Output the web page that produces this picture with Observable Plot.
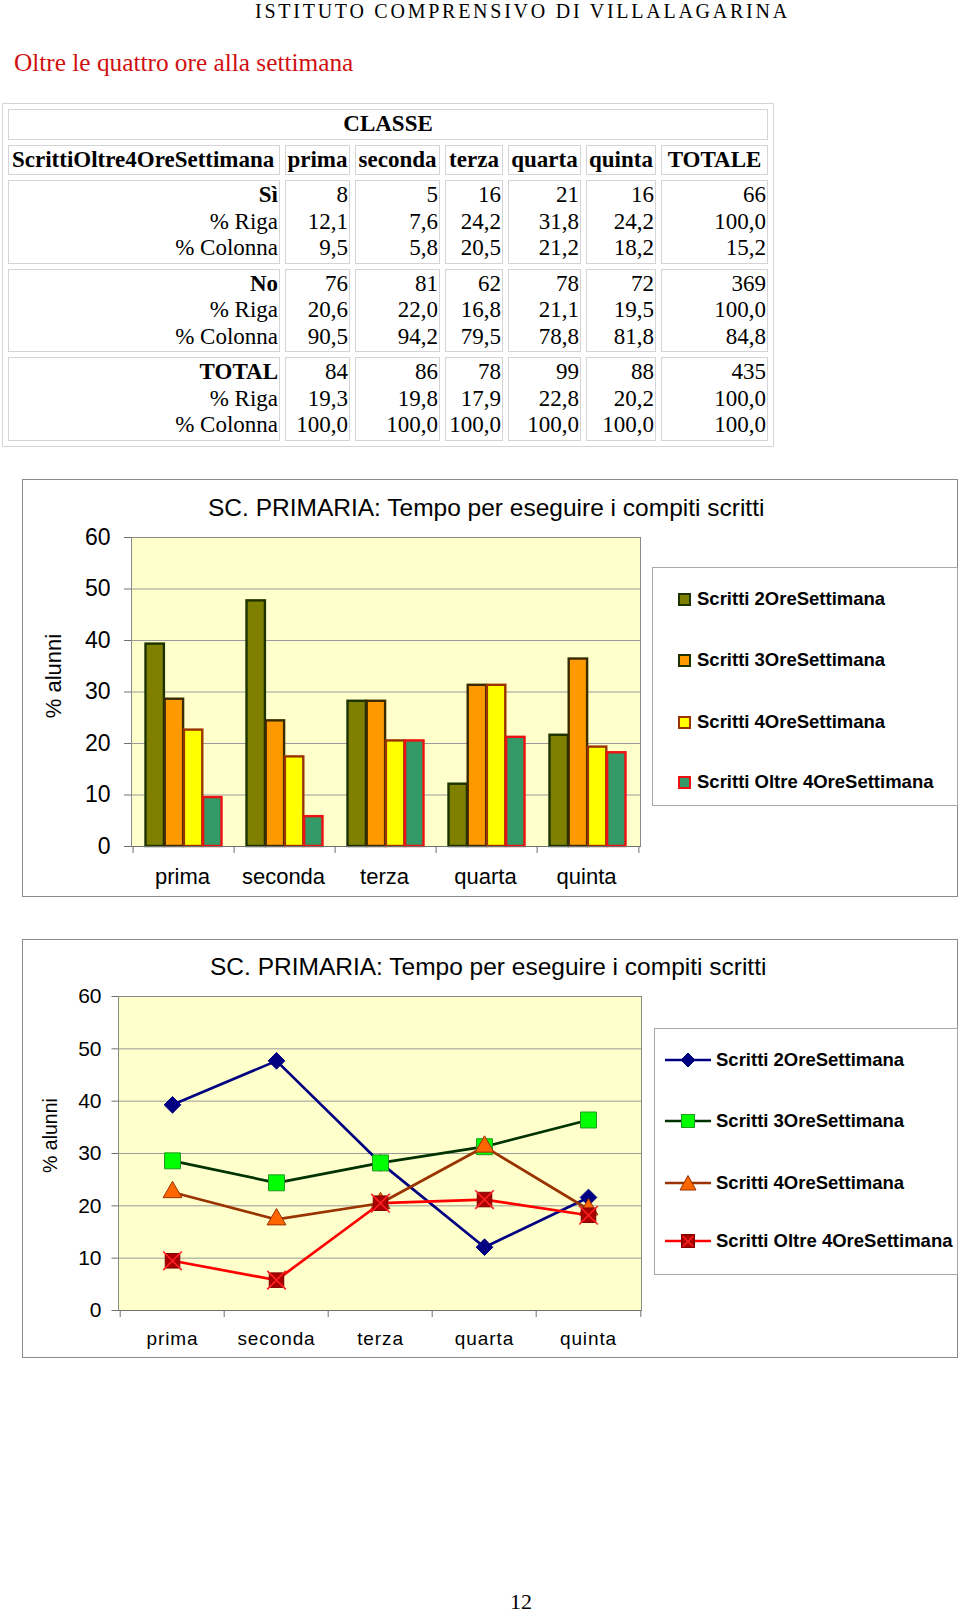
<!DOCTYPE html>
<html>
<head>
<meta charset="utf-8">
<script src="https://cdn.jsdelivr.net/npm/d3@7"></script>
<script src="https://cdn.jsdelivr.net/npm/@observablehq/plot@0.6"></script>
<style>
html,body{margin:0;padding:0;background:#fff;}
#page{position:relative;width:960px;height:1613px;overflow:hidden;background:#fff;}
.abs{position:absolute;}
.serif{font-family:"Liberation Serif","Times New Roman",serif;}
.sans{font-family:"Liberation Sans",Arial,sans-serif;}
#t{position:absolute;left:2px;top:103px;border-collapse:separate;border-spacing:5px;border:1px solid #d4d4d4;
   font-family:"Liberation Serif","Times New Roman",serif;font-size:23px;line-height:26.5px;table-layout:fixed;width:772px;color:#000;}
#t td{border:1px solid #d4d4d4;padding:1px 1px;box-sizing:border-box;vertical-align:top;white-space:nowrap;overflow:visible;}
.frame{position:absolute;border:1.5px solid #8a8a8a;box-sizing:border-box;background:#fff;}
.legend{position:absolute;border:1px solid #a8a8a8;box-sizing:border-box;background:#fff;}
.litem{position:absolute;height:22px;display:flex;align-items:center;font-family:"Liberation Sans",Arial,sans-serif;font-weight:bold;font-size:18.5px;white-space:nowrap;color:#000;}
.title{position:absolute;font-family:"Liberation Sans",Arial,sans-serif;font-size:24.5px;line-height:30px;white-space:nowrap;color:#000;}
</style>
</head>
<body>
<div id="page">
  <div class="abs serif" style="left:255px;top:0px;font-size:20px;line-height:22px;letter-spacing:2.75px;white-space:nowrap;">ISTITUTO COMPRENSIVO DI VILLALAGARINA</div>
  <div class="abs serif" style="left:14px;top:47px;font-size:25.3px;line-height:30px;color:#d01010;white-space:nowrap;">Oltre le quattro ore alla settimana</div>
  <table id="t"></table>

  <div class="frame" style="left:22px;top:479px;width:936px;height:418px;"></div>
  <div id="chart1" class="abs" style="left:23px;top:480px;"></div>
  <div class="title" style="left:208px;top:493px;">SC. PRIMARIA: Tempo per eseguire i compiti scritti</div>
  <div id="legend1" class="legend" style="left:652px;top:567px;width:306px;height:239px;"></div>

  <div class="frame" style="left:22px;top:939px;width:936px;height:419px;"></div>
  <div id="chart2" class="abs" style="left:23px;top:940px;"></div>
  <div class="title" style="left:210px;top:952px;">SC. PRIMARIA: Tempo per eseguire i compiti scritti</div>
  <div id="legend2" class="legend" style="left:654px;top:1028px;width:304px;height:247px;"></div>

  <div class="abs serif" style="left:471px;top:1589px;width:100px;text-align:center;font-size:22px;line-height:26px;">12</div>
</div>
<script>
// ---------- DATA ----------
const classi = ["prima", "seconda", "terza", "quarta", "quinta"];
const serie = ["Scritti 2OreSettimana", "Scritti 3OreSettimana", "Scritti 4OreSettimana", "Scritti Oltre 4OreSettimana"];
const scritti2Ore = [39.3, 47.7, 28.2, 12.1, 21.6];
const scritti3Ore = [28.6, 24.4, 28.2, 31.3, 36.4];
const scritti4Ore = [22.6, 17.4, 20.5, 31.3, 19.3];
const scrittiOltre4Ore = [9.5, 5.8, 20.5, 21.2, 18.2];
const yTicks = [0, 10, 20, 30, 40, 50, 60];

// table
const tabTitolo = "CLASSE";
const tabVariabile = "ScrittiOltre4OreSettimana";
const tabColonne = ["prima", "seconda", "terza", "quarta", "quinta", "TOTALE"];
const tabGruppi = ["Sì", "No", "TOTAL"];
const tabSottoRighe = ["% Riga", "% Colonna"];
const siN = ["8", "5", "16", "21", "16", "66"];
const siRiga = ["12,1", "7,6", "24,2", "31,8", "24,2", "100,0"];
const siColonna = ["9,5", "5,8", "20,5", "21,2", "18,2", "15,2"];
const noN = ["76", "81", "62", "78", "72", "369"];
const noRiga = ["20,6", "22,0", "16,8", "21,1", "19,5", "100,0"];
const noColonna = ["90,5", "94,2", "79,5", "78,8", "81,8", "84,8"];
const totN = ["84", "86", "78", "99", "88", "435"];
const totRiga = ["19,3", "19,8", "17,9", "22,8", "20,2", "100,0"];
const totColonna = ["100,0", "100,0", "100,0", "100,0", "100,0", "100,0"];

// ---------- TABLE ----------
(function () {
  const colW = [272, 65, 85, 58, 73, 70, 107];
  const gruppi = [[siN, siRiga, siColonna], [noN, noRiga, noColonna], [totN, totRiga, totColonna]];
  let h = "<colgroup>" + colW.map(w => `<col style="width:${w}px">`).join("") + "</colgroup>";
  h += `<tr><td colspan="7" style="text-align:center;font-weight:bold;">${tabTitolo}</td></tr>`;
  h += `<tr><td style="font-weight:bold;padding-left:3px;">${tabVariabile}</td>` +
       tabColonne.map(c => `<td style="font-weight:bold;text-align:center;">${c}</td>`).join("") + "</tr>";
  gruppi.forEach((g, gi) => {
    h += `<tr><td style="text-align:right;"><b>${tabGruppi[gi]}</b><br>${tabSottoRighe[0]}<br>${tabSottoRighe[1]}</td>`;
    for (let j = 0; j < tabColonne.length; j++) {
      h += `<td style="text-align:right;">${g[0][j]}<br>${g[1][j]}<br>${g[2][j]}</td>`;
    }
    h += "</tr>";
  });
  document.getElementById("t").innerHTML = h;
})();

// ---------- CHARTS ----------
const font = "Liberation Sans, Arial, sans-serif";
const seriesValues = [scritti2Ore, scritti3Ore, scritti4Ore, scrittiOltre4Ore];
const rows = (vals) => classi.map((c, i) => ({classe: c, valore: vals[i]}));

// Chart 1: grouped bars
const barStyles = [
  {fill: "#808000", stroke: "#1c3300"},
  {fill: "#ff9900", stroke: "#3a2a00"},
  {fill: "#ffff00", stroke: "#993300"},
  {fill: "#339966", stroke: "#ee1111"}
];
{
  const W = 622, H = 416, mL = 108, mR = 5, mT = 57, mB = 50;
  const bw = (W - mL - mR) / classi.length;
  const barW = 19.2, off = (bw - 4 * barW) / 2;
  const chart = Plot.plot({
    width: W, height: H, marginLeft: mL, marginRight: mR, marginTop: mT, marginBottom: mB,
    style: {background: "transparent", fontFamily: font, color: "#000", overflow: "visible"},
    x: {domain: classi, type: "band", padding: 0, label: null},
    y: {domain: [0, 60], label: null},
    marks: [
      Plot.frame({fill: "#ffffcc", stroke: null}),
      Plot.gridY({ticks: yTicks, stroke: "#9a9a9a", strokeOpacity: 1}),
      Plot.frame({stroke: "#8a8a8a"}),
      ...seriesValues.map((vals, i) => Plot.barY(rows(vals), {
        x: "classe", y: "valore", fill: barStyles[i].fill, stroke: barStyles[i].stroke, strokeWidth: 2.4,
        insetLeft: off + i * barW, insetRight: bw - off - (i + 1) * barW
      })),
      Plot.ruleY([0], {stroke: "#707070"}),
      Plot.axisY({ticks: yTicks, tickSize: 7, tickPadding: 14, fontSize: 23, label: null, stroke: "#707070", fill: "#000"}),
      Plot.axisX({tickSize: 0, tickPadding: 22, fontSize: 22, label: null, fill: "#000", dx: -1.5}),
      Plot.axisX({tickSize: 7, tickFormat: () => "", dx: -bw / 2, stroke: "#707070", label: null}),
      Plot.axisX({ticks: [classi[classi.length - 1]], tickSize: 7, tickFormat: () => "", dx: bw / 2, stroke: "#707070", label: null}),
      Plot.text(["% alunni"], {frameAnchor: "left", textAnchor: "middle", lineAnchor: "middle", rotate: -90, dx: -78, dy: -16, fontSize: 22, fill: "#000"})
    ]
  });
  document.getElementById("chart1").appendChild(chart);
}

// Chart 2: lines with markers
const lineStyles = [
  {stroke: "#000080", symbol: "diamond2", fill: "#000080", mstroke: "#000080", r: 7.5},
  {stroke: "#003300", symbol: "square", fill: "#00ff00", mstroke: "#229922", r: 9},
  {stroke: "#993300", symbol: "triangle", fill: "#ff6600", mstroke: "#993300", r: 7},
  {stroke: "#ff0000", symbol: "square", fill: "#aa0000", mstroke: "#800000", r: 8.2, cross: true}
];
{
  const W = 622, H = 417, mL = 95, mR = 4, mT = 56, mB = 47;
  const bw = (W - mL - mR) / classi.length;
  const marks = [
    Plot.frame({fill: "#ffffcc", stroke: null}),
    Plot.gridY({ticks: yTicks, stroke: "#9a9a9a", strokeOpacity: 1}),
    Plot.frame({stroke: "#8a8a8a"}),
    Plot.ruleY([0], {stroke: "#707070"}),
    Plot.axisY({ticks: yTicks, tickSize: 6.5, tickPadding: 10.5, fontSize: 21, label: null, stroke: "#707070", fill: "#000"}),
    Plot.axisX({tickSize: 0, tickPadding: 20.5, fontSize: 19, label: null, fill: "#000"}),
    Plot.axisX({tickSize: 7, tickFormat: () => "", dx: -bw / 2, stroke: "#707070", label: null}),
    Plot.axisX({ticks: [classi[classi.length - 1]], tickSize: 7, tickFormat: () => "", dx: bw / 2, stroke: "#707070", label: null}),
    Plot.text(["% alunni"], {frameAnchor: "left", textAnchor: "middle", lineAnchor: "middle", rotate: -90, dx: -68, dy: -18, fontSize: 19.5, fill: "#000"})
  ];
  seriesValues.forEach((vals, i) => {
    const s = lineStyles[i];
    marks.push(Plot.line(rows(vals), {x: "classe", y: "valore", stroke: s.stroke, strokeWidth: 2.7}));
    marks.push(Plot.dot(rows(vals), {x: "classe", y: "valore", symbol: s.symbol, fill: s.fill, stroke: s.mstroke, strokeWidth: 1, r: s.r}));
    if (s.cross) marks.push(Plot.dot(rows(vals), {x: "classe", y: "valore", symbol: "times", stroke: "#ff2020", strokeWidth: 1.6, r: 8.5}));
  });
  const chart = Plot.plot({
    width: W, height: H, marginLeft: mL, marginRight: mR, marginTop: mT, marginBottom: mB,
    style: {background: "transparent", fontFamily: font, color: "#000", overflow: "visible"},
    x: {domain: classi, type: "point", padding: 0.5, label: null},
    y: {domain: [0, 60], label: null},
    marks
  });
  // letter-spaced category labels as in the reference
  d3.select(chart).selectAll('g[aria-label="x-axis tick label"] text').style("letter-spacing", "0.9px");
  document.getElementById("chart2").appendChild(chart);
}

// ---------- LEGENDS ----------
{
  const lg = document.getElementById("legend1");
  const centers = [31, 92, 154, 214]; // relative to legend box top
  serie.forEach((name, i) => {
    const d = document.createElement("div");
    d.className = "litem";
    d.style.left = "25px";
    d.style.top = (centers[i] - 11) + "px";
    d.innerHTML = `<span style="display:inline-block;width:13px;height:13px;box-sizing:border-box;background:${barStyles[i].fill};border:2.5px solid ${i === 1 ? "#1c3300" : barStyles[i].stroke};margin-right:6px;"></span>${name}`;
    lg.appendChild(d);
  });
}
{
  const lg = document.getElementById("legend2");
  const centers = [31, 92, 154, 212];
  const sym = (i) => {
    const s = lineStyles[i];
    let m = "";
    if (s.symbol === "diamond2") m = `<path d="M23,2 L30,9 L23,16 L16,9 Z" fill="${s.fill}" stroke="${s.mstroke}"/>`;
    else if (s.symbol === "triangle") m = `<path d="M23,1.5 L31,16 L15,16 Z" fill="${s.fill}" stroke="${s.mstroke}"/>`;
    else m = `<rect x="16.5" y="2.5" width="13" height="13" fill="${s.fill}" stroke="${s.mstroke}"/>`;
    if (s.cross) m += `<path d="M18,4.5 L28,14.5 M28,4.5 L18,14.5" stroke="#ff2020" stroke-width="1.6"/>`;
    return `<svg width="46" height="18" style="margin-right:5px;"><line x1="0" y1="9" x2="46" y2="9" stroke="${s.stroke}" stroke-width="2.7"/>${m}</svg>`;
  };
  serie.forEach((name, i) => {
    const d = document.createElement("div");
    d.className = "litem";
    d.style.left = "10px";
    d.style.top = (centers[i] - 11) + "px";
    d.innerHTML = sym(i) + name;
    lg.appendChild(d);
  });
}
</script>
</body>
</html>
